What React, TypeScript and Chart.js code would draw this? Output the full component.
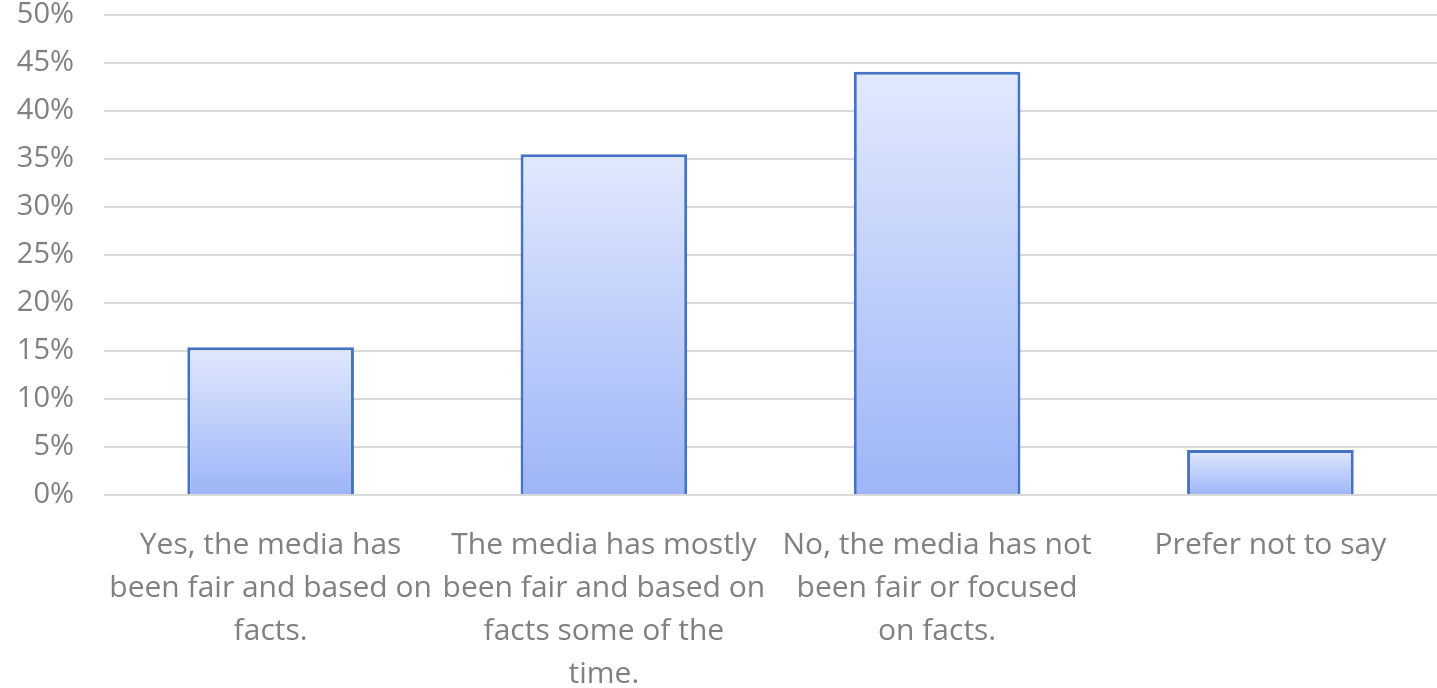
import React, { useEffect, useRef } from "react";
import { Chart, registerables } from "chart.js";

Chart.register(...registerables);

const categories: string[][] = [
  ["Yes, the media has", "been fair and based on", "facts."],
  ["The media has mostly", "been fair and based on", "facts some of the", "time."],
  ["No, the media has not", "been fair or focused", "on facts."],
  ["Prefer not to say"],
];
const values: number[] = [15.4, 35.5, 44.1, 4.7];
const yTicks: number[] = [0, 5, 10, 15, 20, 25, 30, 35, 40, 45, 50];

const FONT = "'Open Sans', Lato, sans-serif";

export default function App() {
  const ref = useRef<HTMLCanvasElement | null>(null);

  useEffect(() => {
    document.body.style.margin = "0";
    const canvas = ref.current;
    if (!canvas) return;
    const chart = new Chart(canvas, {
      type: "bar",
      data: {
        labels: categories,
        datasets: [
          {
            data: values,
            backgroundColor: (ctx: any) => {
              const chart = ctx.chart;
              const y = chart.scales?.y;
              if (!y || ctx.raw == null) return "#c4d3fb";
              const top = y.getPixelForValue(ctx.raw);
              const base = y.getPixelForValue(0);
              if (!isFinite(top) || !isFinite(base) || top === base) return "#c4d3fb";
              const g = chart.ctx.createLinearGradient(0, top, 0, base);
              g.addColorStop(0, "#e1e9fd");
              g.addColorStop(1, "#9db5f8");
              return g;
            },
            borderColor: "#4472c4",
            borderWidth: 3,
            barPercentage: 0.5,
            categoryPercentage: 1,
          },
        ],
      },
      options: {
        animation: false,
        responsive: false,
        maintainAspectRatio: false,
        layout: { padding: 0 },
        plugins: {
          legend: { display: false },
          tooltip: { enabled: false },
        },
        scales: {
          x: {
            grid: { display: false, drawTicks: false },
            border: { display: false },
            ticks: {
              autoSkip: false,
              maxRotation: 0,
              minRotation: 0,
              padding: 29,
              color: "#808080",
              font: { family: FONT, size: 30, lineHeight: 1.43 },
            },
            afterFit: (scale: any) => {
              scale.height = 193;
              scale.paddingLeft = 0;
              scale.paddingRight = 0;
            },
          },
          y: {
            min: 0,
            max: 50,
            afterBuildTicks: (scale: any) => {
              scale.ticks = yTicks.map((v) => ({ value: v }));
            },
            grid: { color: "#d9d9d9", lineWidth: 2, drawTicks: false },
            border: { display: false },
            ticks: {
              padding: 30,
              color: "#808080",
              font: { family: FONT, size: 29 },
              callback: (v: any) => `${v}%`,
            },
            afterFit: (scale: any) => {
              scale.width = 104;
              scale.paddingTop = 15;
              scale.paddingBottom = 0;
            },
          },
        },
      },
    });
    return () => chart.destroy();
  }, []);

  return (
    <div style={{ position: "absolute", left: 0, top: 0, width: 1437, height: 688 }}>
      <canvas ref={ref} width={1437} height={688} style={{ width: 1437, height: 688 }} />
    </div>
  );
}
